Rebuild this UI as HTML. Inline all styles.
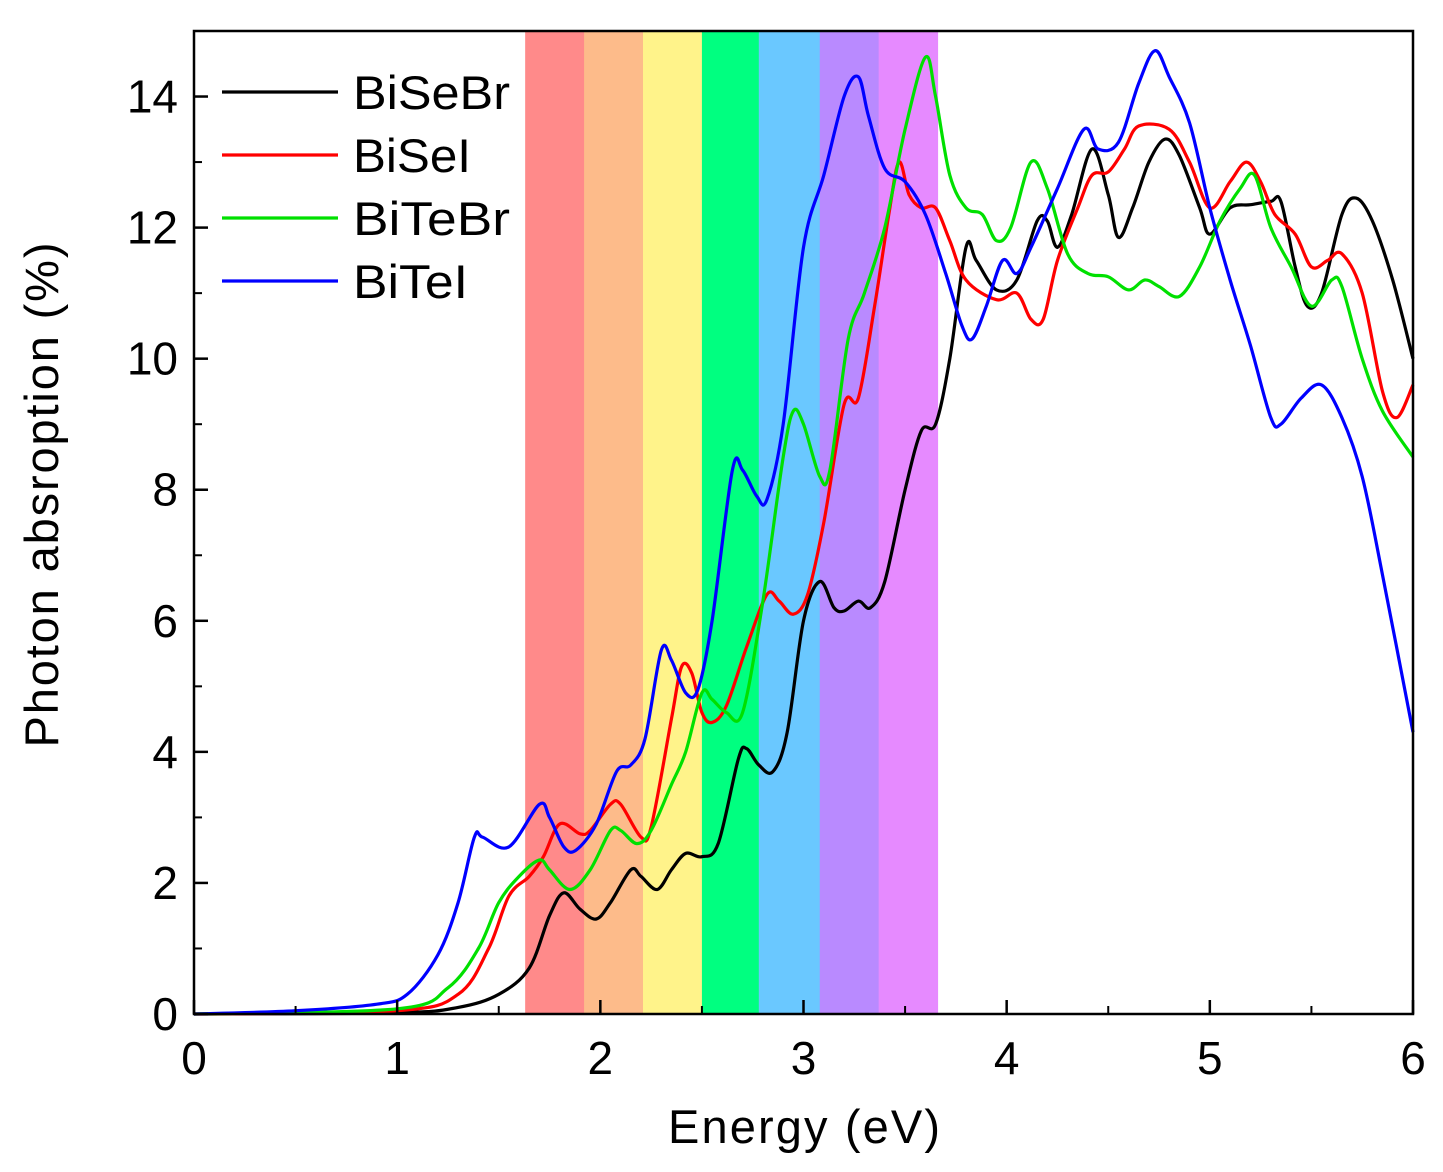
<!DOCTYPE html>
<html><head><meta charset="utf-8"><style>
html,body{margin:0;padding:0;background:#fff;}
svg{display:block;font-family:"Liberation Sans",Arial,sans-serif;}
</style></head><body>
<svg id="chart" width="1443" height="1172" viewBox="0 0 1443 1172" xmlns="http://www.w3.org/2000/svg">
<g id="bands"></g>
<g id="series"></g>
<rect x="194" y="31" width="1219" height="983" fill="none" stroke="#000" stroke-width="2.5"/>
<g id="axes"></g>
<text x="804" y="1143" font-size="47" text-anchor="middle" textLength="272">Energy (eV)</text>
<text transform="translate(58,495) rotate(-90)" font-size="47" text-anchor="middle" textLength="505">Photon absroption (%)</text>
<g id="legend"></g>
</svg>
<script>
const xTicks=[0,1,2,3,4,5,6];
const yTicks=[0,2,4,6,8,10,12,14];
const bandEdges=[1.63,1.92,2.21,2.50,2.78,3.08,3.37,3.66];
const bandColors=["#ff8a8a","#fdbb8a","#fff38a","#00ff80","#6ac8ff","#b98aff","#e68aff"];
const seriesNames=["BiSeBr","BiSeI","BiTeBr","BiTeI"];
const seriesColors=["#000000","#ff0000","#00e000","#0000ff"];
const legendWidths=[157,118,157,115];
const biSeBrX=[0,1,1.3,1.5,1.65,1.75,1.82,1.9,1.98,2.05,2.15,2.2,2.28,2.35,2.42,2.5,2.58,2.68,2.72,2.78,2.85,2.92,3.0,3.08,3.15,3.2,3.27,3.33,3.4,3.5,3.58,3.65,3.72,3.8,3.85,3.95,4.05,4.15,4.2,4.25,4.32,4.42,4.5,4.55,4.62,4.7,4.78,4.85,4.95,5.0,5.1,5.2,5.3,5.35,5.42,5.48,5.55,5.65,5.72,5.8,5.9,6.0];
const biSeBrY=[0,0.02,0.1,0.3,0.7,1.5,1.85,1.6,1.45,1.7,2.2,2.1,1.9,2.2,2.45,2.4,2.6,3.9,4.05,3.8,3.7,4.3,6.0,6.6,6.2,6.15,6.3,6.2,6.6,8.0,8.9,9.0,10.0,11.7,11.5,11.05,11.2,12.1,12.1,11.7,12.2,13.2,12.5,11.85,12.3,13.0,13.35,13.1,12.3,11.9,12.3,12.35,12.4,12.4,11.4,10.8,11.0,12.2,12.45,12.1,11.2,10.0];
const biSeIX=[0,1,1.3,1.45,1.55,1.65,1.72,1.8,1.9,1.95,2.05,2.1,2.2,2.25,2.35,2.4,2.45,2.5,2.55,2.62,2.72,2.82,2.88,2.95,3.02,3.1,3.2,3.27,3.35,3.42,3.47,3.52,3.58,3.65,3.72,3.8,3.95,4.05,4.12,4.18,4.25,4.35,4.42,4.5,4.58,4.65,4.8,4.9,5.0,5.1,5.18,5.25,5.32,5.42,5.5,5.58,5.65,5.75,5.85,5.92,6.0];
const biSeIY=[0,0.05,0.3,1.0,1.8,2.1,2.4,2.9,2.75,2.8,3.2,3.2,2.7,2.85,4.5,5.3,5.2,4.6,4.45,4.7,5.6,6.4,6.3,6.1,6.4,7.5,9.3,9.4,10.8,12.2,13.0,12.5,12.3,12.3,11.8,11.2,10.9,11.0,10.6,10.6,11.5,12.3,12.8,12.85,13.2,13.55,13.5,13.0,12.3,12.7,13.0,12.7,12.2,11.9,11.4,11.5,11.6,11.0,9.5,9.1,9.6];
const biTeBrX=[0,1,1.25,1.4,1.5,1.6,1.7,1.75,1.85,1.95,2.05,2.1,2.18,2.25,2.35,2.42,2.5,2.55,2.62,2.7,2.8,2.9,2.95,3.0,3.08,3.13,3.22,3.3,3.4,3.5,3.6,3.65,3.72,3.8,3.88,3.95,4.02,4.12,4.2,4.3,4.4,4.5,4.6,4.68,4.75,4.85,4.95,5.05,5.15,5.22,5.3,5.4,5.5,5.6,5.65,5.75,5.85,6.0];
const biTeBrY=[0,0.08,0.4,1.0,1.7,2.1,2.35,2.2,1.9,2.2,2.8,2.8,2.6,2.8,3.5,4.0,4.9,4.8,4.6,4.6,6.3,8.5,9.2,9.0,8.2,8.3,10.3,11.0,12.0,13.5,14.6,14.0,12.8,12.3,12.2,11.8,12.0,13.0,12.6,11.6,11.3,11.25,11.05,11.2,11.1,10.95,11.4,12.1,12.6,12.8,12.0,11.4,10.8,11.2,11.1,10.0,9.2,8.5];
const biTeIX=[0,0.5,0.9,1.05,1.2,1.3,1.38,1.42,1.55,1.7,1.75,1.82,1.88,1.98,2.08,2.15,2.22,2.3,2.35,2.42,2.48,2.55,2.65,2.7,2.77,2.82,2.9,3.0,3.1,3.2,3.27,3.32,3.4,3.5,3.6,3.7,3.78,3.83,3.9,3.98,4.05,4.12,4.25,4.38,4.45,4.55,4.65,4.73,4.8,4.9,5.0,5.1,5.2,5.3,5.35,5.45,5.55,5.65,5.75,5.85,6.0];
const biTeIY=[0,0.05,0.15,0.3,0.9,1.7,2.7,2.7,2.55,3.2,3.0,2.55,2.5,2.9,3.7,3.8,4.2,5.55,5.4,4.9,4.95,6.0,8.3,8.3,7.9,7.85,9.0,11.7,12.8,14.0,14.3,13.7,12.9,12.7,12.2,11.3,10.5,10.3,10.8,11.5,11.3,11.7,12.6,13.5,13.2,13.3,14.2,14.7,14.3,13.6,12.3,11.2,10.2,9.1,9.0,9.4,9.6,9.1,8.2,6.7,4.3];

const NS="http://www.w3.org/2000/svg";
const X0=194,X1=1413,Y0=1014,YT=31,XMAX=6,YMAX=15;
function sx(v){return X0+(X1-X0)*v/XMAX;}
function sy(v){return Y0-(Y0-YT)*v/YMAX;}
function mk(tag,attrs,parent){const e=document.createElementNS(NS,tag);for(const k in attrs)e.setAttribute(k,attrs[k]);parent.appendChild(e);return e;}
const bands=document.getElementById('bands');
for(let i=0;i<bandColors.length;i++){
  const r=mk('rect',{x:sx(bandEdges[i]),y:YT,width:sx(bandEdges[i+1])-sx(bandEdges[i])+0.5,height:Y0-YT,fill:bandColors[i]},bands);
  
  
}
const axes=document.getElementById('axes');
xTicks.forEach(v=>{
  const l=mk('line',{x1:sx(v),x2:sx(v),y1:Y0,y2:Y0-14,stroke:'#000','stroke-width':2.5},axes);
  
  
  if(v<XMAX){const m=mk('line',{x1:sx(v+0.5),x2:sx(v+0.5),y1:Y0,y2:Y0-8,stroke:'#000','stroke-width':2},axes);
  
  }
  const t=mk('text',{x:sx(v),y:Y0+60,'font-size':46,'text-anchor':'middle'},axes);t.textContent=v;
  
  
});
yTicks.forEach(v=>{
  const l=mk('line',{x1:X0,x2:X0+14,y1:sy(v),y2:sy(v),stroke:'#000','stroke-width':2.5},axes);
  
  
  const m=mk('line',{x1:X0,x2:X0+8,y1:sy(v+1),y2:sy(v+1),stroke:'#000','stroke-width':2},axes);
  
  
  const t=mk('text',{x:X0-16,y:sy(v)+16,'font-size':46,'text-anchor':'end'},axes);t.textContent=v;
  
  
});
function smooth(xs,ys){
  const p=xs.map((x,i)=>[sx(x),sy(ys[i])]);
  let d='M'+p[0][0].toFixed(1)+','+p[0][1].toFixed(1);
  for(let i=0;i<p.length-1;i++){
    const a=p[i-1]||p[i],b=p[i],c=p[i+1],e=p[i+2]||c;
    const c1=[b[0]+(c[0]-a[0])/6,b[1]+(c[1]-a[1])/6],c2=[c[0]-(e[0]-b[0])/6,c[1]-(e[1]-b[1])/6];
    d+=' C'+c1.map(n=>n.toFixed(1)).join(',')+' '+c2.map(n=>n.toFixed(1)).join(',')+' '+c[0].toFixed(1)+','+c[1].toFixed(1);
  }
  return d;
}
const sdata=[[biSeBrX,biSeBrY],[biSeIX,biSeIY],[biTeBrX,biTeBrY],[biTeIX,biTeIY]];
const sg=document.getElementById('series');
const lg=document.getElementById('legend');
sdata.forEach((s,i)=>{
  const p=mk('path',{d:smooth(s[0],s[1]),fill:'none',stroke:seriesColors[i],'stroke-width':3.2,'stroke-linejoin':'round'},sg);
  
  
  const y=92+i*63;
  const l=mk('line',{x1:222,x2:338,y1:y,y2:y,stroke:seriesColors[i],'stroke-width':3.2},lg);
  
  
  const t=mk('text',{x:353,y:y+17,'font-size':47,textLength:legendWidths[i],lengthAdjust:'spacingAndGlyphs'},lg);t.textContent=seriesNames[i];
  
  
});
</script>
</body></html>
